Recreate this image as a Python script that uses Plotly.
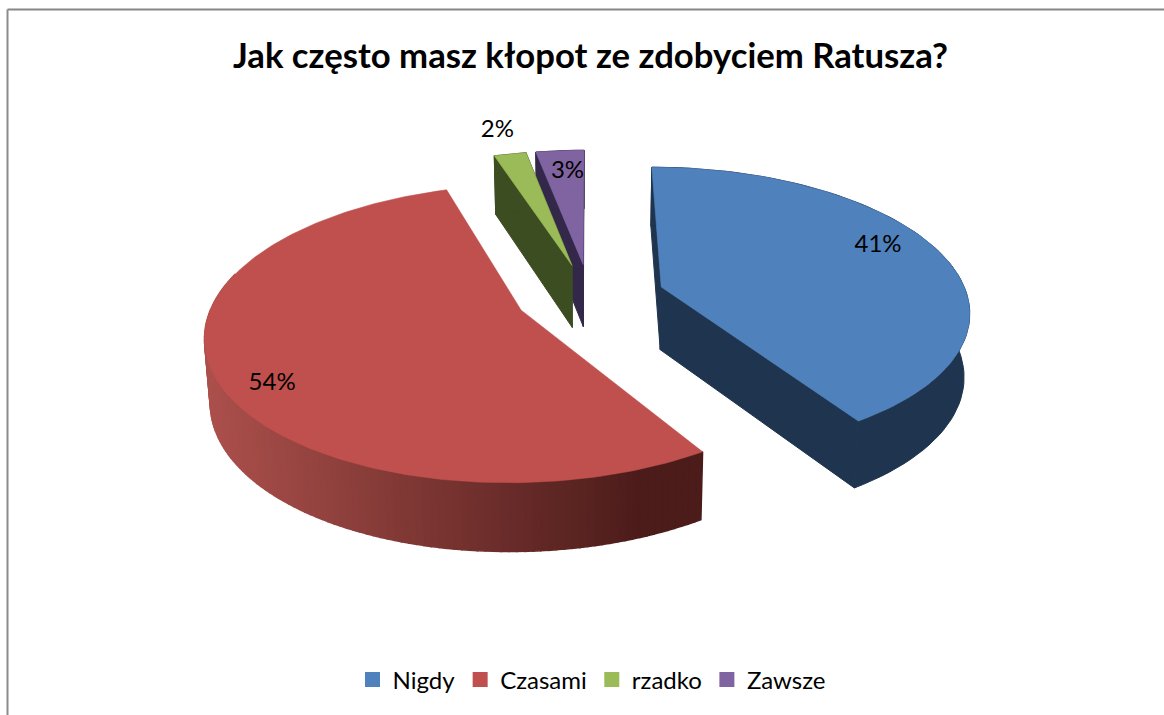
import math
import plotly.graph_objects as go

# ---- data ----
categories = ["Nigdy", "Czasami", "rzadko", "Zawsze"]
values = [41, 54, 2, 3]
top_colors = ["#4f81bd", "#c0504d", "#9bbb59", "#8064a2"]
side_colors = ["#1f344f", None, "#3d4d22", "#33284a"]
title_text = "Jak często masz kłopot ze zdobyciem Ratusza?"

# ---- view model of the tilted, exploded pie ----
CX, CY = 590, 296
RX, RY = 306, 141
PERSP = 0.155
DEPTH = 63
DEPTH_PERSP = 0.45
PULL_U, PULL_V = 0.245, 0.232
BOTTOM_SCALE = 0.985
WALL_DARK = (76, 28, 26)
WALL_LIGHT = (172, 80, 76)


def proj(u, v, z=0.0):
    s = 1.0 / (1.0 - PERSP * v)
    k = 1.0 - (1.0 - BOTTOM_SCALE) * z
    d = DEPTH * (1.0 + DEPTH_PERSP * (s - 1.0))
    return CX + RX * u * s * k, CY + RY * v * s + d * z


def point(mid, ang, r, z=0.0):
    m, a = math.radians(mid), math.radians(ang)
    u = PULL_U * math.sin(m) + r * math.sin(a)
    v = -PULL_V * math.cos(m) - r * math.cos(a)
    return proj(u, v, z)


def arc(mid, a0, a1, z, n):
    return [point(mid, a0 + (a1 - a0) * i / n, 1.0, z) for i in range(n + 1)]


fig = go.Figure()


def poly(pts, color, width=1.0):
    fig.add_trace(go.Scatter(
        x=[p[0] for p in pts] + [pts[0][0]],
        y=[p[1] for p in pts] + [pts[0][1]],
        mode="lines", fill="toself", fillcolor=color,
        line=dict(color=color, width=width),
        hoverinfo="skip", showlegend=False))


total = sum(values)
starts, a = [], 0.0
for val in values:
    starts.append(a)
    a += val / total * 360

# painted far to near so the nearer slices overlap
for idx in (3, 2, 0, 1):
    a0 = starts[idx]
    a1 = a0 + values[idx] / total * 360
    mid = (a0 + a1) / 2
    apex_t, apex_b = point(mid, 0, 0), point(mid, 0, 0, 1)
    # radial faces
    for ang in (a0, a1):
        if side_colors[idx]:
            poly([apex_t, point(mid, ang, 1), point(mid, ang, 1, 1), apex_b], side_colors[idx])
    # outer wall
    if side_colors[idx]:
        n = max(4, int((a1 - a0) / 2))
        top, bot = arc(mid, a0, a1, 0, n), arc(mid, a0, a1, 1, n)
        poly(top + bot[::-1], side_colors[idx])
    else:
        a_vis = 285.0  # the wall is hidden behind the top past the left extreme
        n = 110
        top, bot = arc(mid, a0, a_vis, 0, n), arc(mid, a0, a_vis, 1, n)
        for i in range(n):
            xm = (top[i][0] + top[i + 1][0]) / 2
            f = min(1.0, max(0.0, (xm - 205) / (640 - 205)))
            c = [round(WALL_LIGHT[j] + (WALL_DARK[j] - WALL_LIGHT[j]) * f) for j in range(3)]
            poly([top[i], top[i + 1], bot[i + 1], bot[i]], f"rgb({c[0]},{c[1]},{c[2]})", width=1.5)
    # top surface
    poly([apex_t] + arc(mid, a0, a1, 0, max(4, int(a1 - a0))), top_colors[idx], width=0.6)

# value labels, placed relative to each slice
label_angle = [68, 237, 345.6, 355.5]
label_radius = [0.82, 0.865, 1.24, 0.79]
for idx, val in enumerate(values):
    a0 = starts[idx]
    mid = a0 + val / total * 180
    x, y = point(mid, label_angle[idx], label_radius[idx])
    fig.add_trace(go.Scatter(x=[x], y=[y], mode="text", text=[f"{val}%"],
                             textposition="middle center",
                             textfont=dict(family="Lato", size=24, color="#000000"),
                             hoverinfo="skip", showlegend=False))

# legend entries
for name, col in zip(categories, top_colors):
    fig.add_trace(go.Scatter(x=[None], y=[None], mode="markers", name=name,
                             marker=dict(symbol="square", size=15, color=col)))

fig.update_layout(
    width=1164, height=715,
    margin=dict(l=0, r=0, t=0, b=0),
    paper_bgcolor="#ffffff", plot_bgcolor="#ffffff",
    xaxis=dict(range=[0, 1164], visible=False, fixedrange=True),
    yaxis=dict(range=[715, 0], visible=False, fixedrange=True),
    title=dict(text=title_text, x=590.5 / 1164, xanchor="center",
               y=1 - 56 / 715, yanchor="middle",
               font=dict(family="Lato", size=34.7, color="#000000", weight="bold")),
    legend=dict(orientation="h", x=592 / 1164, xanchor="center",
                y=1 - 680 / 715, yanchor="middle",
                font=dict(family="Lato", size=24, color="#000000"),
                itemwidth=30, bgcolor="rgba(0,0,0,0)"),
    shapes=[
        dict(type="line", xref="paper", yref="paper", x0=7.5 / 1164, x1=1, y0=1 - 9.5 / 715, y1=1 - 9.5 / 715,
             line=dict(color="#868686", width=2)),
        dict(type="line", xref="paper", yref="paper", x0=7.5 / 1164, x1=7.5 / 1164, y0=0, y1=1 - 9.5 / 715,
             line=dict(color="#8c8c8c", width=2)),
    ],
)
fig.write_html("out.html", post_script="document.body.style.margin='0';",
               config={"displayModeBar": False})
